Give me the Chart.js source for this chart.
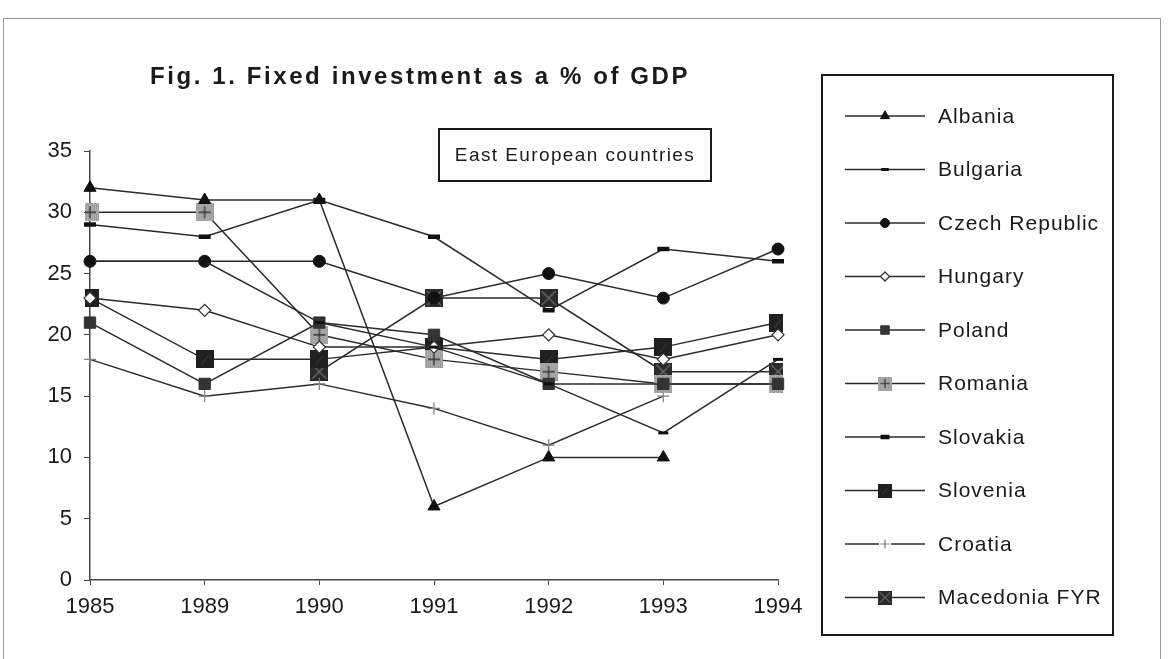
<!DOCTYPE html>
<html>
<head>
<meta charset="utf-8">
<script src="https://cdn.jsdelivr.net/npm/chart.js@4.4.1/dist/chart.umd.min.js"></script>
<style>
  html, body { margin: 0; padding: 0; background: #fff; }
  body { width: 1168px; height: 659px; position: relative; overflow: hidden; font-family: "Liberation Sans", Arial, sans-serif; color: #1a1a1a; }
  #frame { position: absolute; left: 3px; top: 18px; width: 1158px; height: 660px; border: 1px solid #9a9a9a; box-sizing: border-box; }
  #title { position: absolute; left: 0; top: 62px; width: 840px; text-align: center; font-weight: bold; font-size: 24px; letter-spacing: 2.6px; }
  #subtitle { position: absolute; left: 438px; top: 128px; width: 274px; height: 54px; box-sizing: border-box; border: 2.5px solid #1a1a1a; font-size: 19px; line-height: 49px; text-align: center; letter-spacing: 1.4px; }
  #c { position: absolute; left: 0; top: 0; }
</style>
</head>
<body>
<div id="frame"></div>
<canvas id="c" width="1168" height="659"></canvas>
<div id="title">Fig. 1. Fixed investment as a % of GDP</div>
<div id="subtitle">East European countries</div>
<script>
// ---- data ----
const years     = ["1985", "1989", "1990", "1991", "1992", "1993", "1994"];
const albania   = [32, 31, 31, 6, 10, 10, null];
const bulgaria  = [26, 26, 21, 19, 16, 12, 18];
const czech     = [26, 26, 26, 23, 25, 23, 27];
const hungary   = [23, 22, 19, 19, 20, 18, 20];
const poland    = [21, 16, 21, 20, 16, 16, 16];
const romania   = [30, 30, 20, 18, 17, 16, 16];
const slovakia  = [29, 28, 31, 28, 22, 27, 26];
const slovenia  = [23, 18, 18, 19, 18, 19, 21];
const croatia   = [18, 15, 16, 14, 11, 15, null];
const macedonia = [null, null, 17, 23, 23, 17, 17];
const yTicks    = [0, 5, 10, 15, 20, 25, 30, 35];

const LINE = "#2b2b2b";
const FONT = '"Liberation Sans", Arial, sans-serif';

// patterned square markers (Romania, Slovenia, Macedonia)
function squareMarker(size, fill, mark) {
  const c = document.createElement("canvas");
  c.width = c.height = size;
  const g = c.getContext("2d");
  g.fillStyle = fill;
  g.fillRect(0, 0, size, size);
  if (mark === "plus") {
    g.fillStyle = "rgba(255,255,255,0.35)";
    for (let i = 0; i < size; i += 2) for (let j = (i / 2) % 2; j < size; j += 2) g.fillRect(i, j, 1, 1);
    g.strokeStyle = "#333"; g.lineWidth = 1.3;
    g.beginPath(); g.moveTo(size / 2, 3); g.lineTo(size / 2, size - 3);
    g.moveTo(3, size / 2); g.lineTo(size - 3, size / 2); g.stroke();
  } else if (mark === "x") {
    g.strokeStyle = "#6a6a6a"; g.lineWidth = 1.3;
    g.beginPath(); g.moveTo(2, 2); g.lineTo(size - 2, size - 2);
    g.moveTo(size - 2, 2); g.lineTo(2, size - 2); g.stroke();
  } else if (mark === "tex") {
    g.strokeStyle = "#444"; g.lineWidth = 1;
    g.beginPath(); g.moveTo(size * 0.3, size * 0.8); g.lineTo(size * 0.7, size * 0.3); g.stroke();
  }
  return c;
}

const romaniaMk   = squareMarker(18, "#9c9c9c", "plus");
const sloveniaMk  = squareMarker(18, "#202020", "tex");
const macedoniaMk = squareMarker(18, "#2a2a2a", "x");

function series(label, data, style) {
  return Object.assign({
    label, data,
    borderColor: LINE, borderWidth: 1.5, tension: 0, spanGaps: false,
    pointBackgroundColor: "#111", pointBorderColor: "#111", pointBorderWidth: 1,
  }, style);
}

const datasets = [
  series("Albania", albania, { pointStyle: "triangle", pointRadius: 7 }),
  series("Bulgaria", bulgaria, { pointStyle: "line", pointRadius: 5, pointBorderWidth: 3 }),
  series("Czech Republic", czech, { pointStyle: "circle", pointRadius: 6 }),
  series("Hungary", hungary, { pointStyle: "rectRot", pointRadius: 6, pointBackgroundColor: "#fff", pointBorderColor: "#333", pointBorderWidth: 1.3 }),
  series("Poland", poland, { pointStyle: "rect", pointRadius: 8, pointBackgroundColor: "#333", pointBorderColor: "#333" }),
  series("Romania", romania, { pointStyle: romaniaMk }),
  series("Slovakia", slovakia, { pointStyle: "line", pointRadius: 6, pointBorderWidth: 4.5 }),
  series("Slovenia", slovenia, { pointStyle: sloveniaMk }),
  series("Croatia", croatia, { pointStyle: "cross", pointRadius: 6, pointBorderColor: "#808080", pointBorderWidth: 1.2 }),
  series("Macedonia FYR", macedonia, { pointStyle: macedoniaMk }),
];

// boxed legend on the right: line sample + marker + label
const boxLegend = {
  id: "boxLegend",
  afterDraw(chart) {
    const ctx = chart.ctx;
    ctx.save();
    ctx.strokeStyle = "#1a1a1a"; ctx.lineWidth = 2;
    ctx.strokeRect(822, 75, 291, 560);
    ctx.font = "21px " + FONT;
    ctx.letterSpacing = "1px";
    ctx.textBaseline = "middle";
    ctx.fillStyle = "#1a1a1a";
    chart.data.datasets.forEach((ds, i) => {
      const y = 116 + i * 53.5;
      ctx.strokeStyle = LINE; ctx.lineWidth = 1.3;
      ctx.beginPath(); ctx.moveTo(845, y); ctx.lineTo(925, y); ctx.stroke();
      const ps = ds.pointStyle;
      if (ps instanceof HTMLCanvasElement) {
        ctx.drawImage(ps, 885 - 7, y - 7, 14, 14);
      } else {
        ctx.fillStyle = ds.pointBackgroundColor;
        ctx.strokeStyle = ds.pointBorderColor;
        ctx.lineWidth = ds.pointBorderWidth;
        if (ps === "cross") { ctx.fillStyle = "#fff"; ctx.fillRect(879, y - 3, 12, 6); }
        Chart.helpers.drawPoint(ctx, { pointStyle: ps, radius: ds.pointRadius * 0.75, borderWidth: ds.pointBorderWidth }, 885, y);
      }
      ctx.fillStyle = "#1a1a1a";
      ctx.fillText(ds.label, 938, y + 1);
    });
    ctx.restore();
  },
};

new Chart(document.getElementById("c"), {
  type: "line",
  data: { labels: years, datasets },
  options: {
    responsive: false,
    animation: false,
    devicePixelRatio: 1,
    layout: { padding: { left: 0, top: 151, right: 390, bottom: 0 } },
    plugins: { legend: { display: false }, tooltip: { enabled: false }, title: { display: false } },
    scales: {
      x: {
        type: "category",
        offset: false,
        ticks: { font: { size: 22, family: FONT }, color: "#1a1a1a", padding: 9, maxRotation: 0, autoSkip: false },
        grid: { drawOnChartArea: false, tickLength: 5, color: "#444" },
        border: { color: "#444", width: 1.5 },
        afterFit(s) { s.height = 659 - 580; },
      },
      y: {
        min: 0, max: 35,
        afterBuildTicks(s) { s.ticks = yTicks.map((v) => ({ value: v })); },
        ticks: { font: { size: 22, family: FONT }, color: "#1a1a1a", padding: 12 },
        grid: { drawOnChartArea: false, tickLength: 6, color: "#444" },
        border: { color: "#444", width: 1.5 },
        afterFit(s) { s.width = 90; },
      },
    },
  },
  plugins: [boxLegend],
});
</script>
</body>
</html>
